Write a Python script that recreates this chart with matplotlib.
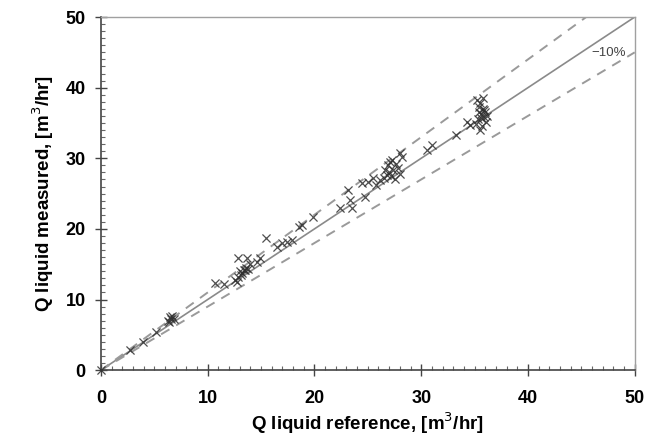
import numpy as np
import matplotlib.pyplot as plt
from matplotlib.ticker import MultipleLocator

plt.rcParams['font.family'] = ['Liberation Sans', 'DejaVu Sans']

# Measured vs reference liquid flow rate
q_ref = [0.0, 2.7, 3.9, 5.2,
         6.3, 6.5, 6.6, 6.7, 6.4, 6.8,
         10.7, 11.5,
         12.6, 12.8, 13.0, 13.2, 13.4, 13.6, 13.8, 12.8, 13.7, 14.0, 14.6, 14.9, 13.5, 12.7, 13.1,
         15.5, 16.5, 17.0, 17.4, 17.9, 18.6, 18.8, 19.9,
         22.4, 23.3, 23.5, 24.7, 23.1,
         24.5, 25.0, 25.5, 25.8, 26.1,
         26.5, 26.8, 27.0, 27.2, 27.4, 26.9, 27.1, 27.3, 27.6, 27.8, 26.6, 27.5, 28.0,
         28.0, 28.2, 30.5, 31.0, 33.3, 34.3, 34.6,
         35.2, 35.5, 35.4, 35.8, 36.0, 35.6, 35.9, 35.3, 36.1, 35.7, 35.5, 35.9, 35.6, 36.2, 35.4, 35.8, 35.1]
q_meas = [0.0, 2.8, 4.0, 5.4,
          7.0, 7.5, 7.2, 7.6, 6.8, 7.3,
          12.3, 12.2,
          12.8, 13.2, 14.0, 13.7, 14.2, 14.5, 14.3, 15.9, 15.9, 15.1, 15.3, 15.9, 14.2, 12.5, 13.5,
          18.7, 17.4, 18.0, 18.1, 18.4, 20.3, 20.5, 21.7,
          22.9, 24.1, 22.9, 24.5, 25.5,
          26.5, 26.6, 27.2, 26.2, 26.9,
          27.2, 27.6, 28.0, 27.5, 28.3, 29.0, 29.5, 29.8, 29.2, 28.6, 28.4, 27.1, 27.8,
          30.7, 30.2, 31.2, 31.9, 33.3, 35.1, 34.7,
          38.2, 37.8, 37.2, 37.0, 36.5, 36.2, 35.8, 35.5, 35.2, 34.6, 34.0, 36.9, 35.7, 36.0, 36.6, 38.5, 34.9]

line_x = np.array([0, 50])

fig = plt.figure(figsize=(6.47, 4.37), dpi=100)
ax = fig.add_axes([0.156, 0.153, 0.825, 0.808])

ax.plot(line_x, line_x, color='#8a8a8a', lw=1.2, zorder=2)
ax.plot(line_x, 1.1 * line_x, color='#9a9a9a', lw=1.4, ls=(0, (5, 4)), zorder=2)
ax.plot(line_x, 0.9 * line_x, color='#9a9a9a', lw=1.4, ls=(0, (5, 4)), zorder=2)
ax.scatter(q_ref, q_meas, marker='x', s=34, color='#303030', linewidths=0.9, alpha=0.85,
           zorder=3, clip_on=False)

ax.text(47.6, 44.9, '\u221210%', fontsize=9.5, color='#444444', ha='center', va='center')

ax.set_xlim(0, 50)
ax.set_ylim(0, 50)
ax.xaxis.set_major_locator(MultipleLocator(10))
ax.yaxis.set_major_locator(MultipleLocator(10))
ax.xaxis.set_minor_locator(MultipleLocator(1))
ax.yaxis.set_minor_locator(MultipleLocator(1))
ax.tick_params(which='major', direction='inout', length=8, width=1, color='#444444',
               labelsize=13)
ax.tick_params(axis='x', which='major', pad=10)
ax.tick_params(axis='y', which='major', pad=7)
ax.tick_params(which='minor', direction='in', length=3, width=0.8, color='#666666')
for lab in ax.get_xticklabels() + ax.get_yticklabels():
    lab.set_fontweight('bold')

for s in ['left', 'bottom']:
    ax.spines[s].set_color('#444444')
    ax.spines[s].set_linewidth(1.2)
for s in ['top', 'right']:
    ax.spines[s].set_color('#a0a0a0')
    ax.spines[s].set_linewidth(1.0)

ax.set_xlabel('Q liquid reference, [m$^3$/hr]', fontsize=13.5, fontweight='bold', labelpad=3)
ax.set_ylabel('Q liquid measured, [m$^3$/hr]', fontsize=13.5, fontweight='bold', labelpad=7)

fig.savefig('out.png', dpi=100)
